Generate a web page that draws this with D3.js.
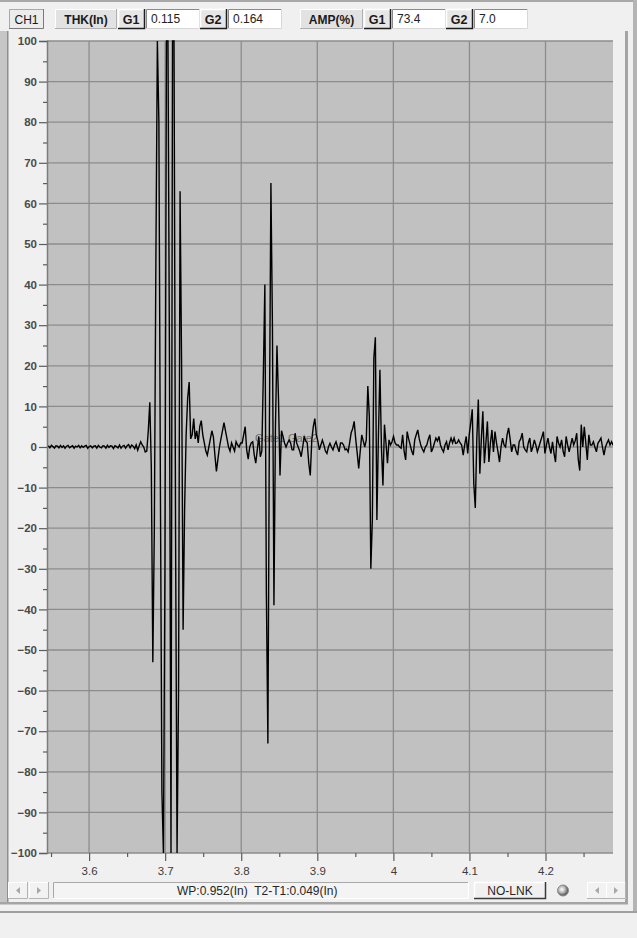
<!DOCTYPE html>
<html><head><meta charset="utf-8">
<script src="https://cdn.jsdelivr.net/npm/d3@7"></script>
<style>
html,body{margin:0;padding:0;background:#f0f0f0;}
svg{display:block;font-family:"Liberation Sans",Arial,sans-serif;}
text{white-space:pre;}
</style></head><body>
<svg id="chart" width="637" height="938"></svg>
<script>
// A-scan trace: one amplitude (%) per sample, starting at xStart (in) with spacing xStep (in)
const xStart = 3.5465;
const xStep = 0.00199;
const amplitude = [
  0.3,-0.2,0.4,0.1,-0.3,0.3,0.2,-0.2,0.4,-0.1,
  0.3,-0.3,0.2,0.4,-0.2,0.1,0.3,-0.3,0.2,0.0,
  0.4,-0.2,0.3,-0.1,0.2,0.4,-0.3,0.1,0.3,-0.2,
  0.2,0.3,-0.3,0.4,0.0,-0.2,0.3,0.2,-0.3,0.4,
  -0.1,0.3,0.2,-0.4,0.3,0.1,-0.2,0.5,-0.3,0.2,
  0.4,-0.3,0.3,0.6,-0.2,0.5,0.2,-0.4,0.5,-0.8,
  0.3,1.3,0.5,0.0,-1.2,-1,4,11,-5,-53,
  -20,45,100,80,-10,-85,-100,-30,100,100,
  20,-100,100,100,-20,-100,-60,63,20,-45,
  -15,3,12,16,2,3,7,2,4,1,
  5,6.5,3,1,-1,-2,0,2,4,2.5,
  -2,-6,-3,0,2,4,6,4,2,0,
  -1,1,0,-1,1.3,0.5,0,1,1,3,
  5,-0.7,-3,0,1,1.3,-2,-4,-0.7,2.6,
  -2.4,-1,18,40,-36,-73,5,65,30,-39,
  5,25,12,-7,4,2.6,1,0,1,1.7,
  1,-0.7,-0.7,3.4,1,0,-1,-2.4,0,2.6,
  1.5,1,-4,-7,1.7,5,7,3,1.5,-0.7,
  0.5,1.7,0.5,-1,-1.6,0,0.9,0,-0.7,0.5,
  1.3,0,-1.2,1,1,0.5,-0.7,-0.5,-1.2,1,
  3.5,4.5,6.3,2,-1.5,-5.3,-1,3,1.5,0,
  1.75,15,7.6,-30,-18,22,27,-18,2.6,19,
  0,-9.5,5.5,1,-4,1.75,0.5,1.3,2.6,1,
  0.5,0.5,0,-0.3,3,-1,-3.2,3.8,2,0.5,
  -1,-2,1.75,3,4.2,2,0.5,-0.5,-1.2,0,
  0.5,2,3,-1.2,-0.3,1,2.2,1.5,2.6,0.5,
  -0.5,-1.2,0.5,1.3,-0.7,1,2.2,1,2.2,0.9,
  1,1.75,1,0.5,-2,0.5,2.6,-1.6,3,6,
  9.3,-9,-15,2,11.7,-6.6,2,8.8,-4,1,
  6.3,-3.7,1,4.2,-1.2,3.8,1,-1.2,-3.7,0,
  2.2,0.5,0,3,4.7,2,-1.2,0.5,0.5,-1,
  -2,1.3,2,3.4,0,-0.7,-1.2,1,2.2,-1.2,
  0,1.75,0.5,-1.2,0,1.3,2.5,3.8,-1.6,0.5,
  2.2,0,-1.6,1.3,-1.5,-3.7,2.6,1,0,1.75,
  -1,-2.4,2.6,0.5,-1.2,0.5,2.2,0.5,1.5,3.4,
  -3,-5.8,5.5,0,5,1,-3.2,3,0.5,0.5,
  1.3,0,-1.2,0.9,1.5,2.2,0,-2,0,1,
  1.75,0.5,1.3,0.5,0.5
];

// Axes
const xDomain = [3.5447, 4.2887];
const yDomain = [-100, 100];
const xTickValues = [3.6, 3.7, 3.8, 3.9, 4.0, 4.1, 4.2];
const xTickLabels = ["3.6", "3.7", "3.8", "3.9", "4", "4.1", "4.2"];
const yTickValues = [-100, -90, -80, -70, -60, -50, -40, -30, -20, -10, 0, 10, 20, 30, 40, 50, 60, 70, 80, 90, 100];

// Readout bar
const channelLabel = "CH1";
const gateNames = ["G1", "G2"];
const thicknessTitle = "THK(In)";
const thicknessReadings = ["0.115", "0.164"];
const amplitudeTitle = "AMP(%)";
const amplitudeReadings = ["73.4", "7.0"];
const gateOverlay = "Gate1 Gate2";
const statusText = "WP:0.952(In)  T2-T1:0.049(In)";
const linkStatus = "NO-LNK";

const svg = d3.select("#chart");
const plot = {left: 47, right: 613, top: 41, bottom: 853};

const x = d3.scaleLinear().domain(xDomain).range([plot.left, plot.right]);
const y = d3.scaleLinear().domain(yDomain).range([plot.bottom, plot.top]);

// ---------- window chrome ----------
svg.append("rect").attr("x", 0).attr("y", 0).attr("width", 637).attr("height", 938).attr("fill", "#f0f0f0");
svg.append("rect").attr("x", 0).attr("y", 0).attr("width", 637).attr("height", 2).attr("fill", "#a8a8a8");
svg.append("rect").attr("x", 633).attr("y", 0).attr("width", 4).attr("height", 913).attr("fill", "#b4b4b4");
svg.append("rect").attr("x", 0).attr("y", 911).attr("width", 637).attr("height", 2).attr("fill", "#a0a0a0");
svg.append("rect").attr("x", 0).attr("y", 913).attr("width", 637).attr("height", 25).attr("fill", "#f0f0f0");

// panel holding the plot
svg.append("rect").attr("x", 0).attr("y", 31).attr("width", 7).attr("height", 873).attr("fill", "#c6c6c6");
svg.append("rect").attr("x", 7).attr("y", 31).attr("width", 1.5).attr("height", 873).attr("fill", "#8e8e8e");
svg.append("rect").attr("x", 625).attr("y", 31).attr("width", 3).attr("height", 873).attr("fill", "#a4a4a4");
svg.append("rect").attr("x", 0).attr("y", 902).attr("width", 628).attr("height", 2.5).attr("fill", "#a4a4a4");

function bevel(g, x0, y0, w, h, fill, tl, br, sw) {
  g.append("rect").attr("x", x0).attr("y", y0).attr("width", w).attr("height", h).attr("fill", fill);
  g.append("path").attr("d", `M${x0 + 0.5},${y0 + h} V${y0 + 0.5} H${x0 + w}`)
    .attr("fill", "none").attr("stroke", tl).attr("stroke-width", sw || 1);
  g.append("path").attr("d", `M${x0},${y0 + h - 0.5} H${x0 + w - 0.5} V${y0}`)
    .attr("fill", "none").attr("stroke", br).attr("stroke-width", sw || 1);
}
function label(g, txt, cx, by, opts) {
  const t = g.append("text").attr("x", cx).attr("y", by).text(txt)
    .attr("font-size", (opts && opts.size) || 12)
    .attr("fill", (opts && opts.fill) || "#1a1a1a")
    .attr("text-anchor", (opts && opts.anchor) || "middle");
  if (opts && opts.bold) t.attr("font-weight", "bold");
  return t;
}

// ---------- readout bar ----------
const bar = svg.append("g");
bevel(bar, 9, 9, 35, 20, "#ececec", "#a8a8a8", "#7a7a7a");
label(bar, channelLabel, 26.5, 23.5);

function readoutGroup(x0, title, titleW, readings) {
  bevel(bar, x0, 9, titleW, 20, "#e2e2e2", "#ffffff", "#b0b0b0");
  label(bar, title, x0 + titleW / 2, 23.5, {bold: true});
  let cx = x0 + titleW + 1;
  readings.forEach((r, i) => {
    bevel(bar, cx, 9, 27, 20, "#e6e6e6", "#ffffff", "#1e1e1e", 1.5);
    label(bar, gateNames[i], cx + 13, 23.5, {bold: true, size: 12.5});
    cx += 28;
    bevel(bar, cx, 9, 54, 20, "#ffffff", "#8a8a8a", "#d8d8d8");
    label(bar, r, cx + 5, 22.5, {anchor: "start", fill: "#222"});
    cx += 54;
  });
}
readoutGroup(55, thicknessTitle, 62, thicknessReadings);
readoutGroup(300, amplitudeTitle, 63, amplitudeReadings);

// ---------- plot ----------
svg.append("rect").attr("x", plot.left).attr("y", plot.top)
  .attr("width", plot.right - plot.left).attr("height", plot.bottom - plot.top)
  .attr("fill", "#c1c1c1");

const grid = svg.append("g").attr("stroke", "#8c8c8c").attr("stroke-width", 1.3);
grid.selectAll(".gy").data(yTickValues).join("line")
  .attr("x1", plot.left).attr("x2", plot.right)
  .attr("y1", d => y(d)).attr("y2", d => y(d));
grid.selectAll(".gx").data(xTickValues).join("line")
  .attr("x1", d => x(d)).attr("x2", d => x(d))
  .attr("y1", plot.top).attr("y2", plot.bottom);

// minor ticks sit halfway between the labelled ones
const yMinor = yTickValues.slice(1).map((v, i) => (v + yTickValues[i]) / 2);
const xMinor = [xTickValues[0] - 0.05].concat(xTickValues.map(v => v + 0.05));

const yAxis = svg.append("g").attr("transform", `translate(${plot.left},0)`)
  .call(d3.axisLeft(y).tickValues(yTickValues).tickSize(8).tickPadding(2).tickFormat(d3.format("d")));
yAxis.select(".domain").attr("stroke", "#7c7c7c").attr("stroke-width", 1.5);
yAxis.selectAll(".tick line").attr("stroke", "#5c5c5c").attr("stroke-width", 1.2);
yAxis.selectAll(".tick text").attr("font-size", 11.5).attr("font-weight", "bold")
  .attr("fill", "#4a4a4a").attr("font-family", "Liberation Sans, Arial, sans-serif");
svg.append("g").attr("transform", `translate(${plot.left},0)`)
  .call(d3.axisLeft(y).tickValues(yMinor).tickSize(4).tickFormat(""))
  .call(g => g.select(".domain").remove())
  .selectAll(".tick line").attr("stroke", "#5c5c5c").attr("stroke-width", 1.2);

const xAxis = svg.append("g").attr("transform", `translate(0,${plot.bottom})`)
  .call(d3.axisBottom(x).tickValues(xTickValues).tickSize(8).tickPadding(6)
    .tickFormat((d, i) => xTickLabels[i]));
xAxis.select(".domain").remove();
xAxis.selectAll(".tick line").attr("stroke", "#5c5c5c").attr("stroke-width", 1.2);
xAxis.selectAll(".tick text").attr("font-size", 11.5).attr("fill", "#3c3c3c")
  .attr("font-family", "Liberation Sans, Arial, sans-serif");
svg.append("g").attr("transform", `translate(0,${plot.bottom})`)
  .call(d3.axisBottom(x).tickValues(xMinor.filter(v => v > xDomain[0] && v < xDomain[1])).tickSize(4).tickFormat(""))
  .call(g => g.select(".domain").remove())
  .selectAll(".tick line").attr("stroke", "#5c5c5c").attr("stroke-width", 1.2);

// gate names drawn faintly over the baseline
svg.append("text").attr("x", 255).attr("y", 442).text(gateOverlay)
  .attr("font-size", 11).attr("fill", "#6e6e6e");

// trace
svg.append("clipPath").attr("id", "plotClip").append("rect")
  .attr("x", plot.left).attr("y", plot.top - 1)
  .attr("width", plot.right - plot.left).attr("height", plot.bottom - plot.top + 2);
const line = d3.line().x((d, i) => x(xStart + i * xStep)).y(d => y(d));
svg.append("path").datum(amplitude)
  .attr("clip-path", "url(#plotClip)")
  .attr("d", line).attr("fill", "none")
  .attr("stroke", "#000").attr("stroke-width", 1.4).attr("stroke-linejoin", "miter");

// ---------- status row ----------
const st = svg.append("g");
function arrowButton(x0, dir) {
  bevel(st, x0, 882, 20, 17, "#f2f2f2", "#ffffff", "#b4b4b4");
  const cx = x0 + 10, cy = 890.5;
  const d = dir < 0 ? `M${cx + 2},${cy - 3.5} L${cx - 2},${cy} L${cx + 2},${cy + 3.5}Z`
                    : `M${cx - 2},${cy - 3.5} L${cx + 2},${cy} L${cx - 2},${cy + 3.5}Z`;
  st.append("path").attr("d", d).attr("fill", "#a8a8a8");
}
arrowButton(8, -1);
arrowButton(29, 1);
bevel(st, 53, 882, 416, 17, "#f4f4f4", "#a8a8a8", "#ffffff");
label(st, statusText, 177, 895, {anchor: "start", fill: "#262626"});
bevel(st, 474, 882, 72, 17, "#f0f0f0", "#ffffff", "#3a3a3a", 1.5);
label(st, linkStatus, 510, 895, {fill: "#262626"});
const grad = svg.append("defs").append("radialGradient").attr("id", "led").attr("cx", "40%").attr("cy", "40%");
grad.append("stop").attr("offset", "0%").attr("stop-color", "#ffffff");
grad.append("stop").attr("offset", "60%").attr("stop-color", "#b8b8b8");
grad.append("stop").attr("offset", "100%").attr("stop-color", "#6a6a6a");
st.append("circle").attr("cx", 563).attr("cy", 890.5).attr("r", 5.5).attr("fill", "url(#led)").attr("stroke", "#8a8a8a");
arrowButton(587, -1);
arrowButton(606, 1);
</script>
</body></html>
